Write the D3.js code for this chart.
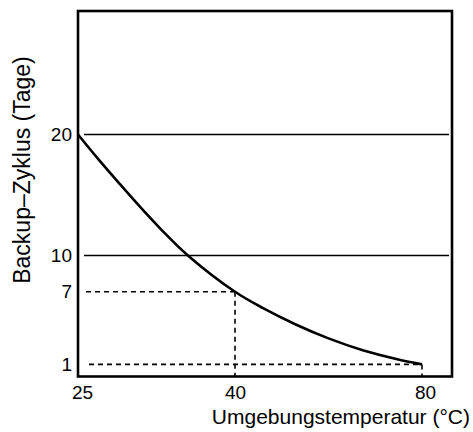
<!DOCTYPE html>
<html>
<head>
<meta charset="utf-8">
<script src="https://cdn.jsdelivr.net/npm/d3@7"></script>
<style>
    body { margin: 0; background: #fff; }
    text { font-family: "Liberation Sans", Arial, sans-serif; fill: #000; }
</style>
</head>
<body>
<script>
// Umgebungstemperatur (°C) -> Backup-Zyklus (Tage)
const temps = [25, 27, 29, 31, 33, 35.5, 40, 46, 53, 60, 67.5, 74.5, 80];
const cycle = [20, 17.9, 15.9, 13.95, 12.1, 10, 7, 5.65, 4.3, 3.15, 2.15, 1.45, 1];

const xTicks = [25, 40, 80];
const yTicks = [1, 7, 10, 20];
const solidRefs = [10, 20];
// dashed guide lines: [temperature, days]
const guideTemps = [40, 80];
const guideDays = [7, 1];

const draw = () => {
    let w = 473,
        h = 432;

    let left = 78, right = 452, top = 11, bottom = 376.5;

    // x axis is not to scale in the original, so a piecewise scale
    let x = d3.scaleLinear()
        .domain([25, 40, 80, 86.4])
        .range([left, 235, 422, right]);

    let y = d3.scaleLinear()
        .domain([0, 30.2])
        .range([bottom, top]);

    let svg = d3.select("body")
        .append("svg")
        .attr("width", w)
        .attr("height", h);

    // solid reference lines at 10 and 20
    svg.selectAll(".ref")
        .data(solidRefs)
        .enter()
        .append("line")
        .attr("class", "ref")
        .attr("x1", left + 6)
        .attr("x2", right - 3)
        .attr("y1", d => y(d))
        .attr("y2", d => y(d))
        .attr("stroke", "#000")
        .attr("stroke-width", 1.4);

    // dashed guides
    let guides = svg.append("g")
        .attr("stroke", "#000")
        .attr("stroke-width", 1.6)
        .attr("stroke-dasharray", "5,4");

    guides.selectAll(".hg")
        .data(guideTemps)
        .enter()
        .append("line")
        .attr("x1", (d, i) => left + 8 + i * 3)
        .attr("x2", d => x(d))
        .attr("y1", (d, i) => y(guideDays[i]))
        .attr("y2", (d, i) => y(guideDays[i]));

    guides.selectAll(".vg")
        .data(guideTemps)
        .enter()
        .append("line")
        .attr("x1", d => x(d))
        .attr("x2", d => x(d))
        .attr("y1", (d, i) => y(guideDays[i]))
        .attr("y2", bottom);

    // curve
    let line = d3.line()
        .x(d => x(d[0]))
        .y(d => y(d[1]))
        .curve(d3.curveCatmullRom.alpha(0.5));

    svg.append("path")
        .datum(temps.map((t, i) => [t, cycle[i]]))
        .attr("d", line)
        .attr("fill", "none")
        .attr("stroke", "#000")
        .attr("stroke-width", 2.6);

    // frame
    svg.append("rect")
        .attr("x", left)
        .attr("y", top)
        .attr("width", right - left)
        .attr("height", bottom - top)
        .attr("fill", "none")
        .attr("stroke", "#000")
        .attr("stroke-width", 2.6);

    // axes
    let xAxis = svg.append("g")
        .attr("transform", `translate(0,${bottom})`)
        .call(d3.axisBottom(x).tickValues(xTicks).tickSize(0).tickPadding(9));
    xAxis.select(".domain").remove();
    xAxis.selectAll("text")
        .attr("font-size", 19)
        .attr("font-family", "Liberation Sans, Arial, sans-serif")
        .attr("dx", d => d == 25 ? 4 : (d == 80 ? 3 : 0));

    let yAxis = svg.append("g")
        .attr("transform", `translate(${left},0)`)
        .call(d3.axisLeft(y).tickValues(yTicks).tickSize(0).tickPadding(6));
    yAxis.select(".domain").remove();
    yAxis.selectAll("text")
        .attr("font-size", 19)
        .attr("font-family", "Liberation Sans, Arial, sans-serif");

    // axis titles
    svg.append("text")
        .attr("x", 470)
        .attr("y", 424)
        .attr("text-anchor", "end")
        .attr("font-size", 21)
        .text("Umgebungstemperatur (°C)");

    svg.append("text")
        .attr("transform", "translate(30,170) rotate(-90)")
        .attr("text-anchor", "middle")
        .attr("font-size", 23)
        .text("Backup–Zyklus (Tage)");
}

draw()
</script>
</body>
</html>
